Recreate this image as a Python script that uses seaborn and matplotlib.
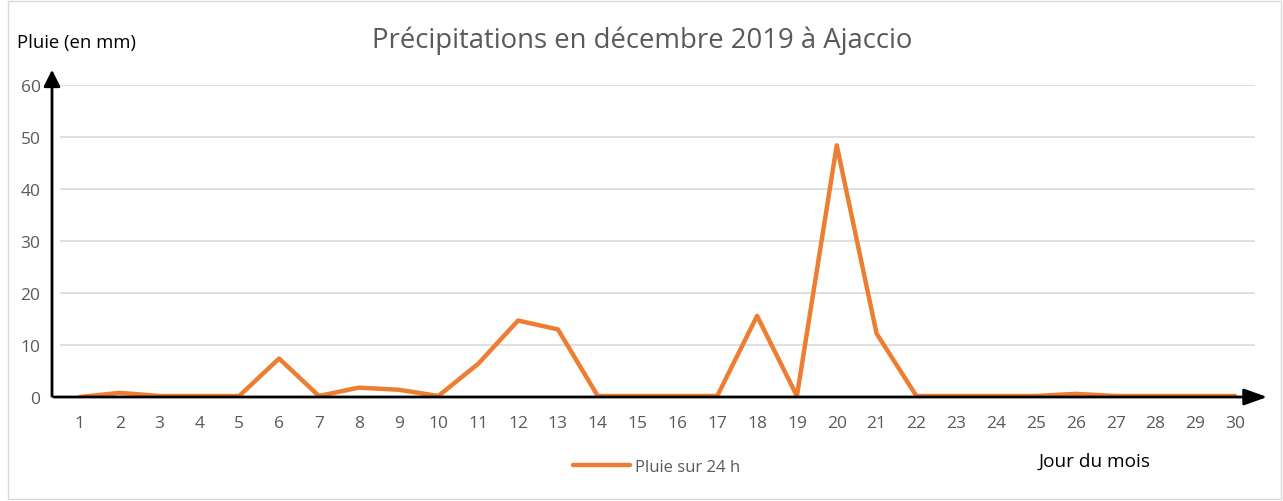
import matplotlib
matplotlib.use("Agg")
import matplotlib.pyplot as plt
import seaborn as sns
import pandas as pd
from matplotlib.patches import Rectangle

days = list(range(1, 31))
rain_mm = [0.0, 0.8, 0.2, 0.2, 0.2, 7.4, 0.2, 1.8, 1.4, 0.2,
           6.4, 14.7, 13.0, 0.2, 0.2, 0.2, 0.2, 15.6, 0.2, 48.4,
           12.2, 0.2, 0.2, 0.2, 0.2, 0.6, 0.2, 0.2, 0.2, 0.2]
y_ticks = [0, 10, 20, 30, 40, 50, 60]
title = "Précipitations en décembre 2019 à Ajaccio"
series_label = "Pluie sur 24 h"

df = pd.DataFrame({"Jour": days, "Pluie": rain_mm})

sns.set_theme(style="white")
plt.rcParams["font.family"] = ["Open Sans", "DejaVu Sans"]

W, H = 1283, 502
fig = plt.figure(figsize=(W / 100, H / 100), dpi=100)
fig.patch.set_facecolor("white")
# outer frame
fig.patches.append(Rectangle((8 / W, 2 / H), (W - 10) / W, (H - 4) / H,
                             transform=fig.transFigure, fill=False,
                             edgecolor="#d9d9d9", linewidth=1))

ax = fig.add_axes([60 / W, 104 / H, (1255 - 60) / W, (416 - 104) / H])
sns.lineplot(data=df, x="Jour", y="Pluie", ax=ax, color="#ED7D31",
             linewidth=3.2, label=series_label, legend=False)

ax.set_xlim(0.5, 30.5)
ax.set_ylim(0, 60)
ax.set_xticks(days)
ax.set_xticklabels([str(d) for d in days])
ax.set_yticks(y_ticks)
ax.yaxis.grid(True, color="#d9d9d9", linewidth=1.2)
ax.xaxis.grid(False)
ax.set_axisbelow(True)
for s in ax.spines.values():
    s.set_visible(False)
ax.tick_params(axis="both", length=0, labelsize=12.5, colors="#595959")
ax.tick_params(axis="x", pad=13)
ax.tick_params(axis="y", pad=14)
ax.set_xlabel("")
ax.set_ylabel("")

# axis arrows
fig.add_artist(matplotlib.patches.FancyArrowPatch(
    (52, H - 400), (52, H - 68), transform=None,
    arrowstyle="-|>,head_length=10,head_width=5", mutation_scale=1,
    color="black", linewidth=2))
fig.add_artist(matplotlib.patches.FancyArrowPatch(
    (51, H - 398), (1270, H - 398), transform=None,
    arrowstyle="-|>,head_length=14,head_width=5", mutation_scale=1,
    color="black", linewidth=2))

fig.text(642 / W, 1 - 41 / H, title, ha="center", va="center",
         fontsize=19.8, color="#595959")
fig.text(17 / W, 1 - 43 / H, "Pluie (en mm)", ha="left", va="center",
         fontsize=13.3, color="black")
fig.text(1095 / W, 1 - 462 / H, "Jour du mois", ha="center", va="center",
         fontsize=13.7, color="black")

leg = fig.legend(loc="center left", bbox_to_anchor=(558 / W, 1 - 468 / H),
                 frameon=False, fontsize=12, handlelength=3.4,
                 handletextpad=0.3, labelcolor="#595959")

fig.savefig("out.png", dpi=100)
